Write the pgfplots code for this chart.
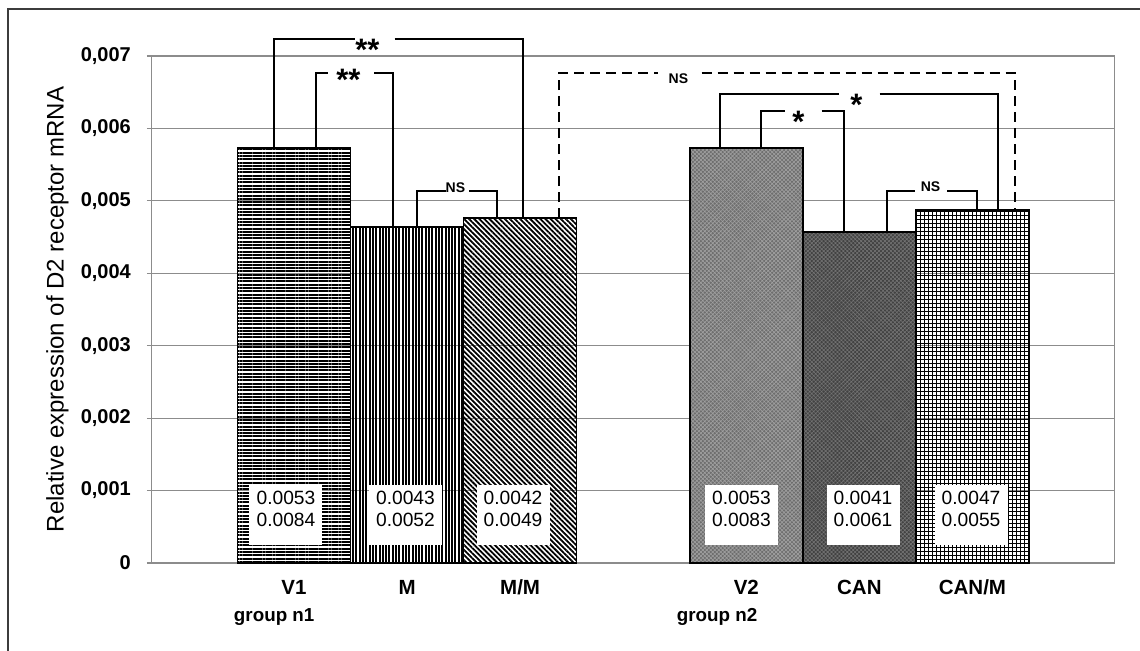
\documentclass[border=0pt]{standalone}
\usepackage{fontspec}
\setmainfont{Liberation Sans}
\usepackage{pgfplots}
\pgfplotsset{compat=1.18}
\usetikzlibrary{patterns.meta}
\definecolor{gridgray}{RGB}{140,140,140}
\definecolor{framegray}{RGB}{60,60,60}
\definecolor{vtwo}{RGB}{110,110,110}
\definecolor{vtwolight}{RGB}{160,160,160}
\definecolor{can}{RGB}{66,66,66}
\definecolor{canlight}{RGB}{115,115,115}
\begin{document}
\begin{tikzpicture}
\useasboundingbox (0,0) rectangle (570pt,325.5pt);
\draw[framegray, line width=1.25pt] (4pt,-5pt) -- (4pt,321pt) -- (575pt,321pt);
\begin{axis}[
  at={(75.75pt,44pt)}, anchor=south west,
  scale only axis, width=481.5pt, height=253.5pt,
  xmin=-1.260, xmax=7.256, ymin=0, ymax=0.007,
  clip=false,
  scaled y ticks=false,
  axis line style={draw=gridgray, line width=0.6pt},
  ymajorgrids, grid style={draw=gridgray, line width=0.6pt},
  ytick={0,0.001,0.002,0.003,0.004,0.005,0.006,0.007},
  yticklabels={0,{0,001},{0,002},{0,003},{0,004},{0,005},{0,006},{0,007}},
  xtick={0,1,2,4,5,6},
  xticklabels={V1,M,M/M,V2,CAN,CAN/M},
  tick align=outside, ytick pos=left, xtick pos=bottom,
  major tick length=2.3pt,
  ytick style={draw=gridgray, line width=0.6pt},
  xtick style={draw=none},
  /pgf/number format/assume math mode=true,
  yticklabel style={font=\fontsize{10}{11}\selectfont\bfseries, xshift=-4.5pt},
  xticklabel style={font=\fontsize{10.25}{11}\selectfont\bfseries, text height=7.4pt, text depth=0pt, anchor=north, yshift=-2.6pt},
  ylabel={Relative expression of D2 receptor mRNA},
  ylabel style={font=\fontsize{12}{13}\selectfont, at={(axis description cs:-0.0976,0.5)}, anchor=center},
]
% bars
\addplot[ybar, bar width=1, bar shift=0pt, draw=black, line width=0.8pt,
  pattern={Lines[angle=0,distance=1.65pt,line width=1pt]}] coordinates {(0,0.00573)};
\addplot[ybar, bar width=1, bar shift=0pt, draw=black, line width=0.8pt,
  pattern={Lines[angle=90,distance=1.65pt,line width=1pt]}] coordinates {(1,0.004635)};
\addplot[ybar, bar width=1, bar shift=0pt, draw=black, line width=0.8pt,
  pattern={Lines[angle=-45,distance=1.8pt,line width=0.9pt]}] coordinates {(2,0.00476)};
\addplot[ybar, bar width=1, bar shift=0pt, draw=black, line width=0.8pt,
  fill=vtwo, postaction={pattern={Hatch[angle=45,distance=1.4pt,line width=0.3pt]}, pattern color=vtwolight}] coordinates {(4,0.00573)};
\addplot[ybar, bar width=1, bar shift=0pt, draw=black, line width=0.8pt,
  fill=can, postaction={pattern={Hatch[angle=45,distance=1.4pt,line width=0.3pt]}, pattern color=canlight}] coordinates {(5,0.00457)};
\addplot[ybar, bar width=1, bar shift=0pt, draw=black, line width=0.8pt,
  pattern={Hatch[angle=0,distance=2pt,line width=0.45pt]}] coordinates {(6,0.00487)};

% value boxes
\foreach \xc/\ta/\tb in {-0.071/0.0053/0.0084, 0.986/0.0043/0.0052, 1.937/0.0042/0.0049, 3.957/0.0053/0.0083, 5.032/0.0041/0.0061, 5.987/0.0047/0.0055}{
  \edef\temp{\noexpand\node[fill=white, inner sep=0pt, minimum width=36.5pt, minimum height=30pt] at (axis cs:\xc,0.000663) {};
  \noexpand\node[align=center, inner sep=0pt, font=\noexpand\fontsize{9.6}{11}\noexpand\selectfont] at (axis cs:\xc,0.000745) {\ta\noexpand\\\tb};}
  \temp
}

% group labels
\node[anchor=base west, font=\fontsize{9.4}{10}\selectfont\bfseries, inner sep=0pt] at (axis cs:-0.534,-0.000801) {group n1};
\node[anchor=base west, font=\fontsize{9.4}{10}\selectfont\bfseries, inner sep=0pt] at (axis cs:3.383,-0.000801) {group n2};

% brackets group 1
\draw[line width=1pt] (axis cs:-0.181,0.00573) |- (axis cs:0.544,0.007230);
\draw[line width=1pt] (axis cs:0.889,0.007230) -| (axis cs:2.021,0.00476);
\node[anchor=base, inner sep=0pt, font=\fontsize{15.5}{15}\selectfont\bfseries] at (axis cs:0.650,0.006944) {**};

\draw[line width=1pt] (axis cs:0.199,0.00573) |- (axis cs:0.305,0.006769);
\draw[line width=1pt] (axis cs:0.712,0.006769) -| (axis cs:0.880,0.004635);
\node[anchor=base, inner sep=0pt, font=\fontsize{15.5}{15}\selectfont\bfseries] at (axis cs:0.482,0.006530) {**};

\draw[line width=1pt] (axis cs:1.092,0.004635) |- (axis cs:1.340,0.005140);
\draw[line width=1pt] (axis cs:1.552,0.005140) -| (axis cs:1.791,0.00476);
\node[anchor=base, inner sep=0pt, font=\fontsize{7}{8}\selectfont\bfseries] at (axis cs:1.428,0.005122) {NS};

% dashed between groups
\draw[line width=1pt, dash pattern=on 5pt off 3pt] (axis cs:2.348,0.00476) |- (axis cs:3.223,0.006765);
\draw[line width=1pt, dash pattern=on 5pt off 3pt] (axis cs:3.604,0.006765) -| (axis cs:6.372,0.00487);
\node[anchor=base, inner sep=0pt, font=\fontsize{7}{8}\selectfont\bfseries] at (axis cs:3.400,0.006627) {NS};

% brackets group 2
\draw[line width=1pt] (axis cs:3.763,0.00573) |- (axis cs:4.824,0.006471);
\draw[line width=1pt] (axis cs:5.178,0.006471) -| (axis cs:6.230,0.00487);
\node[anchor=base, inner sep=0pt, font=\fontsize{15.5}{15}\selectfont\bfseries] at (axis cs:4.974,0.006185) {*};

\draw[line width=1pt] (axis cs:4.134,0.00573) |- (axis cs:4.338,0.006240);
\draw[line width=1pt] (axis cs:4.665,0.006240) -| (axis cs:4.868,0.00457);
\node[anchor=base, inner sep=0pt, font=\fontsize{15.5}{15}\selectfont\bfseries] at (axis cs:4.461,0.005950) {*};

\draw[line width=1pt] (axis cs:5.240,0.00457) |- (axis cs:5.496,0.005140);
\draw[line width=1pt] (axis cs:5.779,0.005140) -| (axis cs:6.036,0.00487);
\node[anchor=base, inner sep=0pt, font=\fontsize{7}{8}\selectfont\bfseries] at (axis cs:5.629,0.005136) {NS};
\end{axis}
\end{tikzpicture}
\end{document}
